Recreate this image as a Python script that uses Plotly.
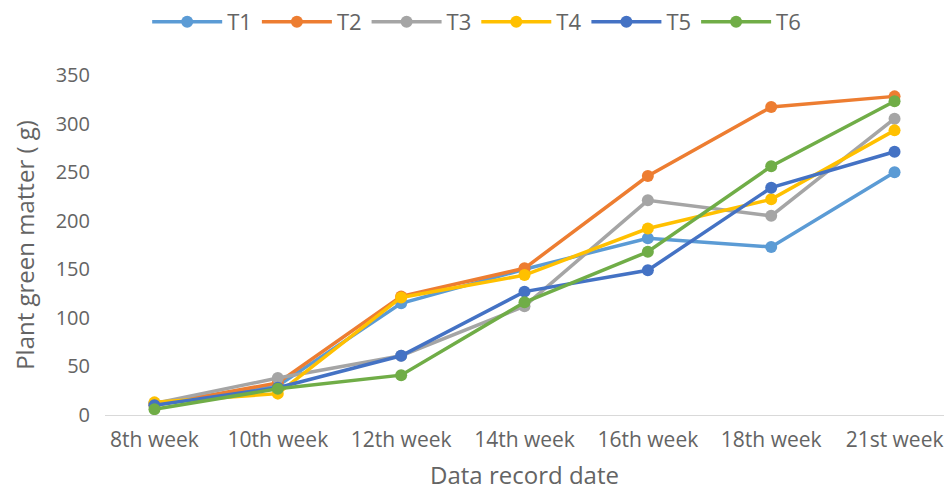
import plotly.graph_objects as go

weeks = ["8th week", "10th week", "12th week", "14th week", "16th week", "18th week", "21st week"]

t1 = [12, 30, 115, 150, 182, 173, 250]
t2 = [10, 33, 122, 151, 246, 317, 328]
t3 = [12, 38, 61, 112, 221, 205, 305]
t4 = [13, 22, 121, 144, 192, 222, 293]
t5 = [10, 28, 61, 127, 149, 234, 271]
t6 = [6, 27, 41, 116, 168, 256, 323]

series = [
    ("T1", t1, "#5B9BD5"),
    ("T2", t2, "#ED7D31"),
    ("T3", t3, "#A5A5A5"),
    ("T4", t4, "#FFC000"),
    ("T5", t5, "#4472C4"),
    ("T6", t6, "#70AD47"),
]

font_family = "Open Sans, sans-serif"
text_color = "#646464"

fig = go.Figure()
for name, vals, color in series:
    fig.add_trace(go.Scatter(
        x=weeks, y=vals, name=name, mode="lines+markers",
        line=dict(color=color, width=3.5),
        marker=dict(color=color, size=12),
    ))

fig.update_layout(
    width=944, height=491,
    margin=dict(l=105, r=0, t=75, b=76),
    paper_bgcolor="white", plot_bgcolor="white",
    font=dict(family=font_family, color=text_color, size=20),
    showlegend=True,
    legend=dict(orientation="h", x=0.443, xanchor="center", xref="paper",
                y=0.998, yanchor="top", yref="container",
                font=dict(size=22, color=text_color),
                itemwidth=70, tracegroupgap=0),
    xaxis=dict(
        showgrid=False, showline=True, linecolor="#D9D9D9", linewidth=1,
        ticks="", tickfont=dict(size=21, color=text_color), ticklabelstandoff=6,
        title=dict(text="Data record date", font=dict(size=24, color=text_color), standoff=16),
    ),
    yaxis=dict(
        range=[0, 350], dtick=50, showgrid=False, zeroline=False, showline=False,
        tickfont=dict(size=20, color=text_color), ticklabelstandoff=14,
        title=dict(text="Plant green matter ( g)", font=dict(size=24, color=text_color), standoff=14),
    ),
)

fig.write_html("out.html")
